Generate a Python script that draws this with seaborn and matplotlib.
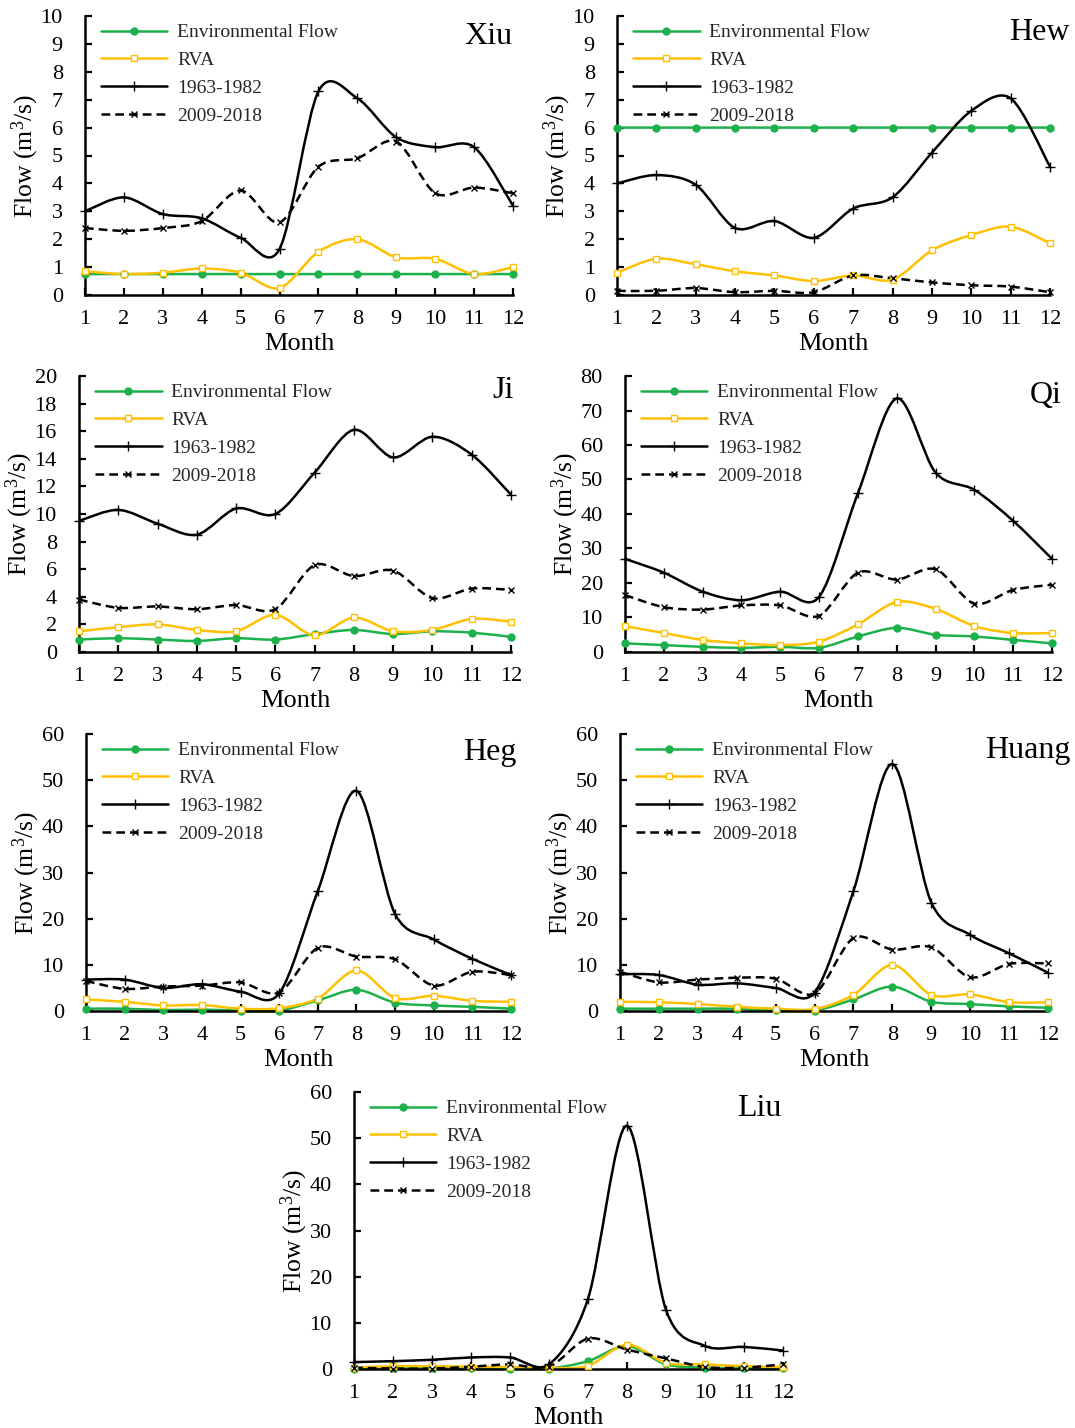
import matplotlib
matplotlib.use('Agg')

import matplotlib.pyplot as plt
import seaborn as sns
import numpy as np
from matplotlib.path import Path
from matplotlib.patches import PathPatch
from matplotlib.lines import Line2D

months = list(range(1, 13))
series_names = ["Environmental Flow", "RVA", "1963-1982", "2009-2018"]
stations = ["Xiu", "Hew", "Ji", "Qi", "Heg", "Huang", "Liu"]

# 读取图中数值 (m3/s)
xiu_env = [0.75] * 12
xiu_rva = [0.85, 0.75, 0.8, 0.95, 0.8, 0.25, 1.55, 2.0, 1.35, 1.3, 0.75, 1.0]
xiu_old = [3.0, 3.5, 2.9, 2.75, 2.05, 1.65, 7.3, 7.05, 5.65, 5.3, 5.3, 3.2]
xiu_new = [2.4, 2.3, 2.4, 2.65, 3.75, 2.6, 4.6, 4.9, 5.5, 3.65, 3.85, 3.65]

hew_env = [6.0] * 12
hew_rva = [0.8, 1.3, 1.1, 0.85, 0.7, 0.5, 0.7, 0.55, 1.6, 2.15, 2.45, 1.85]
hew_old = [4.0, 4.3, 3.95, 2.4, 2.65, 2.05, 3.1, 3.5, 5.1, 6.6, 7.05, 4.6]
hew_new = [0.15, 0.15, 0.25, 0.1, 0.15, 0.1, 0.7, 0.6, 0.45, 0.35, 0.3, 0.1]

ji_env = [0.9, 1.0, 0.9, 0.8, 1.0, 0.9, 1.3, 1.6, 1.3, 1.5, 1.4, 1.1]
ji_rva = [1.5, 1.8, 2.0, 1.6, 1.5, 2.7, 1.2, 2.5, 1.5, 1.6, 2.4, 2.2]
ji_old = [9.5, 10.3, 9.3, 8.5, 10.4, 10.0, 13.0, 16.1, 14.1, 15.6, 14.3, 11.4]
ji_new = [3.8, 3.2, 3.3, 3.1, 3.4, 3.1, 6.3, 5.5, 5.9, 3.9, 4.6, 4.5]

qi_env = [2.5, 2.0, 1.5, 1.2, 1.5, 1.2, 4.5, 7.0, 5.0, 4.5, 3.5, 2.5]
qi_rva = [7.5, 5.5, 3.5, 2.5, 2.0, 3.0, 8.0, 14.5, 12.5, 7.5, 5.5, 5.5]
qi_old = [27, 23, 17.5, 15, 17.5, 16, 46, 73.5, 52, 47, 38, 27]
qi_new = [16.5, 13, 12.3, 13.5, 13.5, 10.5, 23, 21, 24, 14, 18, 19.5]

heg_env = [0.5, 0.5, 0.2, 0.3, 0.1, 0.1, 2.3, 4.6, 1.8, 1.2, 0.9, 0.5]
heg_rva = [2.5, 2.0, 1.2, 1.3, 0.5, 0.6, 2.7, 8.8, 2.8, 3.3, 2.2, 2.0]
heg_old = [6.8, 6.8, 5.0, 5.8, 4.2, 3.8, 26, 47.7, 21, 15.5, 11.3, 7.8]
heg_new = [6.5, 4.8, 5.3, 5.5, 6.2, 4.0, 13.7, 11.8, 11.2, 5.5, 8.5, 7.8]

huang_env = [0.5, 0.5, 0.5, 0.5, 0.2, 0.1, 2.5, 5.3, 2.0, 1.5, 1.0, 0.7]
huang_rva = [2.0, 1.9, 1.5, 0.9, 0.5, 0.4, 3.5, 10.0, 3.5, 3.6, 1.9, 1.9]
huang_old = [8.0, 7.8, 5.7, 6.0, 5.0, 4.0, 26, 53.5, 23.5, 16.5, 12.5, 8.3]
huang_new = [8.5, 6.2, 6.8, 7.2, 7.0, 3.8, 15.8, 13.3, 13.8, 7.3, 10.2, 10.3]

liu_env = [0.1, 0.2, 0.2, 0.2, 0.1, 0.1, 1.7, 5.0, 1.0, 0.3, 0.2, 0.2]
liu_rva = [0.3, 0.6, 0.6, 0.5, 0.4, 0.2, 0.7, 5.3, 1.3, 1.0, 0.6, 0.4]
liu_old = [1.5, 1.7, 2.0, 2.5, 2.5, 1.0, 15.2, 52.7, 12.8, 5.0, 4.8, 4.0]
liu_new = [0.3, 0.1, 0.1, 0.5, 1.0, 0.5, 6.6, 4.2, 2.3, 0.4, 0.3, 1.0]

data = {
    "Xiu": [xiu_env, xiu_rva, xiu_old, xiu_new],
    "Hew": [hew_env, hew_rva, hew_old, hew_new],
    "Ji": [ji_env, ji_rva, ji_old, ji_new],
    "Qi": [qi_env, qi_rva, qi_old, qi_new],
    "Heg": [heg_env, heg_rva, heg_old, heg_new],
    "Huang": [huang_env, huang_rva, huang_old, huang_new],
    "Liu": [liu_env, liu_rva, liu_old, liu_new],
}
y_max = {"Xiu": 10, "Hew": 10, "Ji": 20, "Qi": 80, "Heg": 60, "Huang": 60, "Liu": 60}
y_step = {"Xiu": 1, "Hew": 1, "Ji": 2, "Qi": 10, "Heg": 10, "Huang": 10, "Liu": 10}

# 布局 (像素): left, top, right, bottom
W, H = 1075, 1428
boxes = {
    "Xiu": (85, 16, 513, 295),
    "Hew": (617, 16, 1050, 295),
    "Ji": (79, 376, 511, 652),
    "Qi": (625, 376, 1052, 652),
    "Heg": (86, 734, 511, 1011),
    "Huang": (620, 734, 1048, 1011),
    "Liu": (354, 1092, 783, 1369),
}
title_right = {"Xiu": 512, "Hew": 1070, "Ji": 514, "Qi": 1062, "Heg": 517, "Huang": 1070, "Liu": 782}
title_y = {"Xiu": 37, "Hew": 33, "Ji": 390, "Qi": 395, "Heg": 752, "Huang": 750, "Liu": 1108}

GREEN = "#1DB14B"
YELLOW = "#FFC000"
styles = [
    dict(color=GREEN, ls="-", marker="o", ms=5, mfc=GREEN, mec=GREEN),
    dict(color=YELLOW, ls="-", marker="s", ms=4.5, mfc="white", mec=YELLOW),
    dict(color="black", ls="-", marker="+", ms=7, mfc="black", mec="black"),
    dict(color="black", ls=(0, (3.5, 2)), marker="x", ms=5, mfc="black", mec="black"),
]


def smooth_path(x, y, k=1 / 6.5):
    # Excel 风格的平滑曲线 (Catmull-Rom -> Bezier)
    x = np.asarray(x, float)
    y = np.asarray(y, float)
    px = np.concatenate([[x[0]], x, [x[-1]]])
    py = np.concatenate([[y[0]], y, [y[-1]]])
    verts = [(x[0], y[0])]
    codes = [Path.MOVETO]
    for i in range(1, len(x)):
        c1 = (px[i] + (px[i + 1] - px[i - 1]) * k, py[i] + (py[i + 1] - py[i - 1]) * k)
        c2 = (px[i + 1] - (px[i + 2] - px[i]) * k, py[i + 1] - (py[i + 2] - py[i]) * k)
        verts += [c1, c2, (px[i + 1], py[i + 1])]
        codes += [Path.CURVE4] * 3
    return Path(verts, codes)


sns.set_theme(style="white")
plt.rcParams['font.family'] = ['Liberation Serif', 'DejaVu Serif']
plt.rcParams['mathtext.fontset'] = 'custom'
plt.rcParams['mathtext.rm'] = 'Liberation Serif'
plt.rcParams['mathtext.it'] = 'Liberation Serif:italic'
plt.rcParams['axes.linewidth'] = 1.8

fig = plt.figure(figsize=(W / 100, H / 100), dpi=100)

for st in stations:
    l, t, r, b = boxes[st]
    ax = fig.add_axes([l / W, 1 - b / H, (r - l) / W, (b - t) / H])
    for vals, sty in zip(data[st], styles):
        ax.add_patch(PathPatch(smooth_path(months, vals), fill=False, edgecolor=sty["color"],
                               lw=1.8, ls=sty["ls"], clip_on=False, zorder=2))
        sns.lineplot(x=months, y=vals, ax=ax, linestyle="none", marker=sty["marker"],
                     markersize=sty["ms"], markerfacecolor=sty["mfc"], markeredgecolor=sty["mec"],
                     markeredgewidth=1.0, color=sty["color"], clip_on=False, zorder=3)
    ax.set_xlim(1, 12)
    ax.set_ylim(0, y_max[st])
    ax.set_xticks(months)
    ax.set_yticks(np.arange(0, y_max[st] + 1, y_step[st]))
    for s in ["top", "right"]:
        ax.spines[s].set_visible(False)
    for s in ["left", "bottom"]:
        ax.spines[s].set_color("black")
    ax.tick_params(axis="y", direction="in", length=5, width=1.6, colors="black",
                   labelsize=16, left=True, pad=16)
    ax.tick_params(axis="x", direction="in", length=5, width=1.6, colors="black",
                   labelsize=16, bottom=True, pad=11)
    ax.set_xlabel("Month", fontsize=19, labelpad=3, color="black")
    ax.set_ylabel("Flow (m$^3$/s)", fontsize=18.5, labelpad=0, color="black")
    ax.grid(False)

    handles = [Line2D([], [], color=s["color"], ls=s["ls"], lw=1.8, marker=s["marker"],
                      markersize=s["ms"], markerfacecolor=s["mfc"], markeredgecolor=s["mec"])
               for s in styles]
    ax.legend(handles, series_names, loc="upper left", bbox_to_anchor=(0.02, 1.0),
              frameon=False, fontsize=14, handlelength=3.4, handletextpad=0.5,
              labelspacing=0.52, borderaxespad=0)

    ax.text((title_right[st] - l) / (r - l), (b - title_y[st]) / (b - t), st,
            transform=ax.transAxes, ha="right", va="center", fontsize=23, color="black")

fig.savefig("out.png", dpi=100)
